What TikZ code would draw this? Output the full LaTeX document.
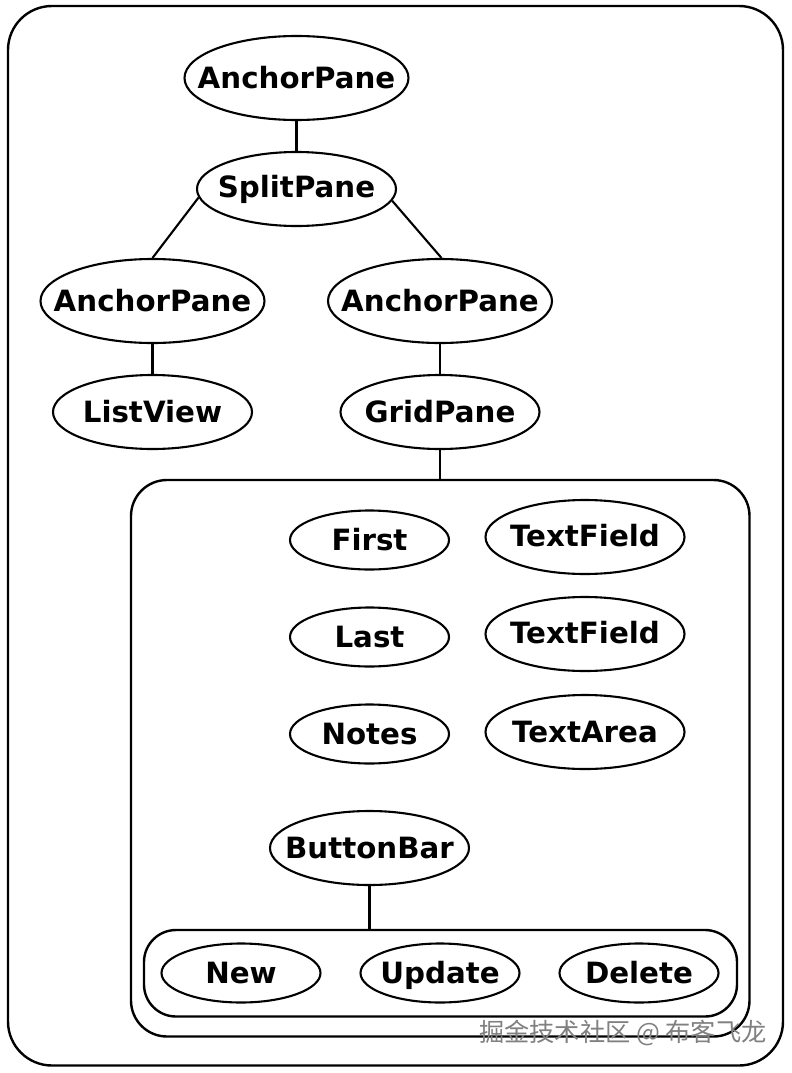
\documentclass[tikz,border=0pt]{standalone}
\usepackage{fontspec}
\setmainfont{DejaVu Sans}
\newfontfamily\cjk{Noto Sans CJK SC}
\usetikzlibrary{shapes.geometric}
\newcommand\tx[1]{\makebox[0pt][c]{#1}}
\begin{document}
\begin{tikzpicture}[x=1pt,y=-1pt,
 el/.style={ellipse,draw,line width=2.1pt,inner sep=0pt,text height=21pt,text depth=0pt,font=\fontsize{29.3}{32}\selectfont\bfseries},
 big/.style={el,minimum width=224,minimum height=84},
 mid/.style={el,minimum width=199,minimum height=74},
 sml/.style={el,minimum width=159,minimum height=59},
 con/.style={line width=2.1pt},
 frame/.style={draw,line width=2.4pt,inner sep=0pt,outer sep=0pt,anchor=north west}]
\useasboundingbox (0,0) rectangle (792,1073);
\fill[white] (0,0) rectangle (792,1073);
\node[frame,rounded corners=44,minimum width=775,minimum height=1059.5] (outer) at (8,6) {};
\node[frame,rounded corners=36,minimum width=618.5,minimum height=556.5] (grid) at (131,480) {};
\node[frame,rounded corners=32,minimum width=593,minimum height=86.5] (bar) at (144,930) {};
\node[big] (a1) at (296.5,78) {\tx{AnchorPane}};
\node[mid] (sp) at (296.5,189) {\raisebox{2pt}{\tx{SplitPane}}};
\node[big] (a2) at (152.5,301) {\tx{AnchorPane}};
\node[big] (a3) at (440,301) {\tx{AnchorPane}};
\node[mid] (lv) at (152.5,412) {\tx{ListView}};
\node[mid] (gp) at (440,412) {\tx{GridPane}};
\node[sml] (first) at (369.5,540) {\tx{First}};
\node[sml] (last) at (369.5,637) {\tx{Last}};
\node[sml] (notes) at (369.5,734) {\tx{Notes}};
\node[mid] (tf1) at (585,537) {\raisebox{1pt}{\tx{TextField}}};
\node[mid] (tf2) at (585,634) {\raisebox{1pt}{\tx{TextField}}};
\node[mid] (ta) at (585,732) {\tx{TextArea}};
\node[mid] (bb) at (369.5,848) {\tx{ButtonBar}};
\node[sml] (new) at (241,973) {\tx{New}};
\node[sml] (upd) at (440,973) {\tx{Update}};
\node[sml] (del) at (639,973) {\tx{Delete}};
\draw[con] (a1) -- (sp);
\draw[con] (sp.185) -- (a2.north);
\draw[con] (sp.-7) -- (a3.88);
\draw[con] (a2) -- (lv);
\draw[con] (a3) -- (gp);
\draw[con] (gp) -- (gp.south |- grid.north);
\draw[con] (bb) -- (bb.south |- bar.north);
\node[text=black!50,font=\cjk\fontsize{25.2}{28}\selectfont,anchor=east] (wm) at (770,1033) {掘金技术社区 @ 布客飞龙};
\end{tikzpicture}
\end{document}
